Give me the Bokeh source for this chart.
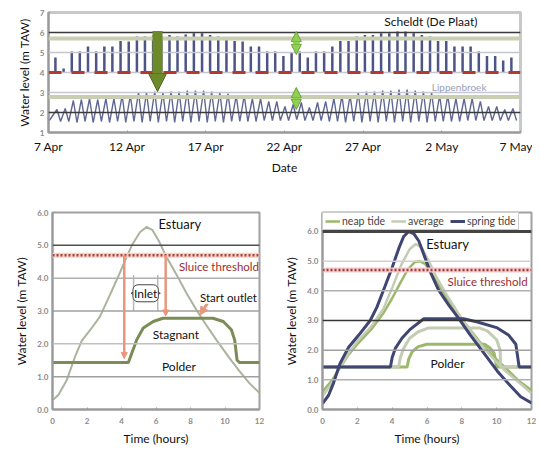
from bokeh.plotting import figure
from bokeh.layouts import column, row
from bokeh.models import (FixedTicker, Span, Label, Arrow, NormalHead, Legend, LegendItem)
from bokeh.embed import file_html
from bokeh.resources import INLINE

# ---------------- data: top panel ----------------
date_ticks = [0, 5, 10, 15, 20, 25, 30]
date_labels = ["7 Apr", "12 Apr", "17 Apr", "22 Apr", "27 Apr", "2 May", "7 May"]
level_ticks_top = [1, 2, 3, 4, 5, 6, 7]

scheldt_t = [0.44, 0.96, 1.48, 1.99, 2.51, 3.03, 3.55, 4.06, 4.58, 5.10,
             5.62, 6.13, 6.65, 7.17, 7.69, 8.20, 8.72, 9.24, 9.76, 10.27,
             10.79, 11.31, 11.83, 12.34, 12.86, 13.38, 13.90, 14.41, 14.93, 15.45,
             15.97, 16.48, 17.00, 17.52, 18.04, 18.55, 19.07, 19.59, 20.11, 20.62,
             21.14, 21.66, 22.18, 22.69, 23.21, 23.73, 24.25, 24.76, 25.28, 25.80,
             26.32, 26.83, 27.35, 27.87, 28.39, 28.90, 29.42]
scheldt_high = [4.75, 4.20, 5.05, 5.05, 5.30, 5.05, 5.30, 5.30, 5.57, 5.55,
                5.80, 5.80, 5.85, 5.80, 5.88, 5.80, 5.90, 5.96, 5.96, 5.88,
                5.80, 5.72, 5.57, 5.55, 5.30, 5.30, 5.05, 5.05, 4.83, 5.00,
                5.05, 4.75, 5.05, 5.05, 5.30, 5.57, 5.57, 5.80, 5.88, 5.88,
                5.96, 5.96, 6.05, 6.05, 5.96, 5.88, 5.80, 5.57, 5.57, 5.30,
                5.30, 5.30, 5.05, 4.83, 4.83, 4.60, 4.75]
scheldt_base = 4.0
lipp_high = [2.15, 2.20, 2.60, 2.65, 2.70, 2.65, 2.70, 2.70, 2.85, 2.85,
             3.00, 3.00, 3.05, 3.00, 3.05, 3.05, 3.10, 3.10, 3.10, 3.05,
             3.00, 2.95, 2.85, 2.85, 2.70, 2.70, 2.55, 2.55, 2.30, 2.40,
             2.50, 2.25, 2.50, 2.55, 2.70, 2.85, 2.85, 3.00, 3.05, 3.05,
             3.10, 3.10, 3.15, 3.15, 3.10, 3.05, 3.00, 2.85, 2.85, 2.70,
             2.70, 2.70, 2.55, 2.30, 2.30, 2.15, 2.20]
lipp_low = [1.60, 1.55, 1.55, 1.50, 1.55, 1.50, 1.55, 1.50, 1.55, 1.50,
            1.55, 1.50, 1.55, 1.50, 1.55, 1.50, 1.55, 1.50, 1.55, 1.50,
            1.55, 1.50, 1.55, 1.55, 1.55, 1.55, 1.60, 1.60, 1.60, 1.60,
            1.65, 1.60, 1.60, 1.60, 1.55, 1.55, 1.50, 1.55, 1.50, 1.55,
            1.50, 1.55, 1.50, 1.55, 1.50, 1.55, 1.50, 1.55, 1.55, 1.55,
            1.55, 1.60, 1.60, 1.60, 1.60, 1.60, 1.60, 1.60]
band_levels_top = [5.7, 2.78]

# ---------------- data: bottom panels ----------------
hour_ticks = [0, 2, 4, 6, 8, 10, 12]
level_ticks = [0, 1, 2, 3, 4, 5, 6]
sluice_threshold = 4.7

est_t = [0.05, 0.35, 0.83, 1.3, 1.7, 2.2, 2.75, 3.33, 3.81, 4.3, 4.6, 5.07, 5.45,
         5.8, 6.2, 6.6, 7.2, 7.77, 8.35, 8.9, 9.5, 10.25, 10.85, 11.4, 12.0]
est_v = [0.3, 0.45, 0.9, 1.6, 2.1, 2.43, 2.83, 3.49, 4.05, 4.65, 5.0, 5.4, 5.56,
         5.46, 5.1, 4.65, 4.1, 3.54, 3.03, 2.58, 2.12, 1.57, 1.16, 0.81, 0.5]
pol_t = [0, 4.4, 4.6, 4.88, 5.26, 5.84, 6.4, 9.3, 9.9, 10.37, 10.56, 10.7, 10.85, 12]
pol_v = [1.43, 1.43, 1.72, 2.12, 2.48, 2.68, 2.78, 2.78, 2.68, 2.43, 2.12, 1.5, 1.43, 1.43]

spring_est_t = [0.0, 0.35, 0.63, 1.0, 1.5, 2.07, 2.74, 3.13, 3.6, 3.99, 4.38, 4.66, 4.95,
                5.24, 5.53, 5.82, 6.2, 6.68, 7.26, 7.83, 8.5, 9.27, 10.04, 10.8, 11.38, 12.0]
spring_est_v = [0.2, 0.48, 0.89, 1.54, 2.1, 2.5, 3.0, 3.46, 4.17, 4.77, 5.43, 5.83, 6.0,
                5.93, 5.68, 5.22, 4.62, 4.01, 3.51, 3.06, 2.5, 1.9, 1.29, 0.79, 0.43, 0.22]
avg_est_t = [0.0, 0.5, 1.0, 1.5, 2.0, 2.8, 3.5, 4.0, 4.5, 5.0, 5.35, 5.7, 6.1, 6.6,
             7.2, 8.0, 8.8, 9.6, 10.4, 11.2, 12.0]
avg_est_v = [0.45, 0.85, 1.4, 1.9, 2.3, 2.8, 3.4, 4.1, 4.85, 5.4, 5.58, 5.45, 5.0, 4.4,
             3.8, 3.05, 2.4, 1.85, 1.35, 0.95, 0.55]
neap_est_t = [0.0, 0.5, 1.0, 1.5, 2.0, 2.8, 3.5, 4.0, 4.5, 4.9, 5.3, 5.6, 5.9, 6.3,
              6.8, 7.5, 8.2, 9.0, 9.8, 10.6, 11.3, 12.0]
neap_est_v = [0.6, 0.95, 1.4, 1.85, 2.2, 2.7, 3.25, 3.75, 4.3, 4.72, 4.97, 5.0, 4.9, 4.55,
              4.05, 3.45, 2.9, 2.3, 1.8, 1.35, 0.95, 0.65]
spring_pol_t = [0, 3.9, 4.0, 4.18, 4.57, 5.05, 5.82, 8.1, 8.9, 10.04, 10.7, 11.1, 11.2, 11.29, 12]
spring_pol_v = [1.43, 1.43, 1.75, 2.06, 2.41, 2.71, 3.06, 3.06, 2.95, 2.75, 2.5, 2.2, 1.8, 1.43, 1.43]
avg_pol_t = [0, 4.37, 4.47, 4.65, 5.0, 5.5, 6.1, 9.0, 9.46, 10.0, 10.2, 10.23, 12]
avg_pol_v = [1.43, 1.43, 1.75, 2.05, 2.4, 2.62, 2.75, 2.75, 2.65, 2.35, 2.0, 1.43, 1.43]
neap_pol_t = [0, 4.86, 4.95, 5.15, 5.5, 6.0, 9.3, 9.6, 9.85, 9.95, 10.0, 12]
neap_pol_v = [1.43, 1.43, 1.7, 1.95, 2.12, 2.2, 2.2, 2.08, 1.9, 1.6, 1.43, 1.43]

# ---------------- styles ----------------
FONT = "Lato"
TICK_GREY = "#8a8a8a"
EST_COL = "#aab39c"
POL_COL = "#7b8c57"
NEAP_COL = "#9cb86a"
AVG_COL = "#c4ccb4"
SPRING_COL = "#3f4672"
RED = "#9b2d2d"
ORANGE = "#e8977c"


def style_axes(p):
    for ax in (p.xaxis[0], p.yaxis[0]):
        ax.axis_line_color = "#9a9a9a"
        ax.axis_line_width = 2
        ax.major_tick_line_color = "#9a9a9a"
        ax.major_tick_in = 2
        ax.major_tick_out = 0
        ax.minor_tick_line_color = None
        ax.major_label_text_font = FONT
        ax.axis_label_text_font = FONT
        ax.axis_label_text_font_style = "normal"
        ax.axis_label_text_font_size = "12px"
        ax.axis_label_text_color = "#111111"
        ax.major_label_standoff = 4
        ax.axis_label_standoff = 5
    p.xgrid.grid_line_color = None
    p.ygrid.grid_line_color = None
    p.outline_line_color = "#a0a0a0"
    p.outline_line_width = 2
    p.background_fill_color = "white"
    p.border_fill_color = "white"


def hline(p, y, color, width, dash="solid"):
    p.add_layout(Span(location=y, dimension="width", line_color=color,
                      line_width=width, line_dash=dash))


def text(p, x, y, s, color="#111111", size="12px", bg=None, border=None):
    p.add_layout(Label(x=x, y=y, text=s, text_align="center", text_baseline="middle",
                       text_font=FONT, text_font_size=size, text_color=color,
                       background_fill_color=bg, background_fill_alpha=1.0 if bg else 0.0,
                       border_line_color=border, padding=1 if border else 0,
                       border_radius=5 if border else 0))


# ================= top panel =================
p1 = figure(width=532, height=180, x_range=(0, 30), y_range=(1, 7),
            output_backend="svg", toolbar_location=None,
            min_border_left=48, min_border_right=12, min_border_top=12, min_border_bottom=48)
style_axes(p1)
p1.xaxis.ticker = FixedTicker(ticks=date_ticks)
p1.xaxis.major_label_overrides = {t: l for t, l in zip(date_ticks, date_labels)}
p1.xaxis.major_label_text_font_size = "12px"
p1.xaxis.major_label_text_color = "#111111"
p1.xaxis.major_label_standoff = 6
p1.xaxis.axis_label_standoff = 3
p1.yaxis.ticker = FixedTicker(ticks=level_ticks_top)
p1.yaxis.major_label_text_font_size = "8px"
p1.yaxis.major_label_text_font_style = "bold"
p1.yaxis.major_label_text_color = TICK_GREY
p1.xaxis.axis_label = "Date"
p1.yaxis.axis_label = "Water level (m TAW)"
p1.outline_line_color = "#c8c8c8"
p1.outline_line_width = 3

for lv in (3, 4, 5):
    hline(p1, lv, "#c4c6d0", 1.5)
for lv in band_levels_top:
    hline(p1, lv, "#c9cdb2", 4)
hline(p1, 6, "#3a3a3a", 1.5)
hline(p1, 2, "#3a3a3a", 1.5)
hline(p1, scheldt_base, "#b5392c", 3, "13 10")

# Lippenbroek series (alternating low/high water)
lx, ly = [0.05], [lipp_low[0]]
for i, (t, h) in enumerate(zip(scheldt_t, lipp_high)):
    lx += [t + 0.1, t + 0.33]
    ly += [h, lipp_low[min(i + 1, len(lipp_low) - 1)]]
p1.line(lx, ly, line_color="#5f6792", line_width=1.4)

# Scheldt high-water spikes above the base level
p1.segment(x0=scheldt_t, y0=[scheldt_base] * len(scheldt_t), x1=scheldt_t, y1=scheldt_high,
           line_color="#4d5486", line_width=2.5)

p1.add_layout(Arrow(end=NormalHead(size=18, fill_color="#6d8a2b", line_color="#4f6520"),
                    x_start=6.93, y_start=6.08, x_end=6.93, y_end=3.05,
                    line_color="#6d8a2b", line_width=10))
for y0, y1 in ((4.9, 6.05), (2.15, 3.25)):
    p1.add_layout(Arrow(start=NormalHead(size=10, fill_color="#8fd052", line_color="#6aa33a"),
                        end=NormalHead(size=10, fill_color="#8fd052", line_color="#6aa33a"),
                        x_start=15.75, y_start=y0, x_end=15.75, y_end=y1,
                        line_color="#8fd052", line_width=7))
text(p1, 24.3, 6.55, "Scheldt (De Plaat)", size="12px", bg="white")
text(p1, 26.1, 3.3, "Lippenbroek", color="#9aa0b8", size="10px")

# ================= bottom-left panel =================
p2 = figure(width=270, height=270, x_range=(0, 12), y_range=(0, 6),
            output_backend="svg", toolbar_location=None,
            min_border_left=52, min_border_right=11, min_border_top=32, min_border_bottom=41)
style_axes(p2)


def bottom_axes(p):
    p.xaxis.ticker = FixedTicker(ticks=hour_ticks)
    p.yaxis.ticker = FixedTicker(ticks=level_ticks)
    p.yaxis.major_label_overrides = {v: f"{v:.1f}" for v in level_ticks}
    for ax in (p.xaxis[0], p.yaxis[0]):
        ax.major_label_text_font_size = "8px"
        ax.major_label_text_font_style = "bold"
        ax.major_label_text_color = TICK_GREY
    p.xaxis.major_label_standoff = 8
    p.xaxis.axis_label_standoff = 4
    p.xaxis.axis_label = "Time (hours)"
    p.yaxis.axis_label = "Water level (m TAW)"


bottom_axes(p2)
hline(p2, 1, "#a0a0a0", 1.5)
hline(p2, 2, "#c0c0c0", 1.5)
hline(p2, 3, "#a0a0a0", 1.5)
hline(p2, 4, "#b0b0b0", 1.5)
hline(p2, 5, "#505050", 1.5)
hline(p2, sluice_threshold, "#f3d2c6", 5)
hline(p2, sluice_threshold, "#b0403a", 2.5, "2 2")

p2.line(est_t, est_v, line_color=EST_COL, line_width=2)
p2.line(pol_t, pol_v, line_color=POL_COL, line_width=3)

for x0, y1 in ((4.16, 1.55), (6.56, 2.85)):
    p2.add_layout(Arrow(end=NormalHead(size=6, fill_color=ORANGE, line_color=ORANGE),
                        x_start=x0, y_start=sluice_threshold, x_end=x0, y_end=y1,
                        line_color=ORANGE, line_width=2.5))
for xb in (4.7, 6.1):
    p2.segment(x0=[xb], y0=[3.0], x1=[xb], y1=[4.1], line_color="#b8b8b8", line_width=1.5)
p2.add_layout(Arrow(start=NormalHead(size=9, fill_color="white", line_color="#444444"),
                    end=NormalHead(size=9, fill_color="white", line_color="#444444"),
                    x_start=4.55, y_start=3.54, x_end=6.25, y_end=3.54,
                    line_color="#444444", line_width=1))
p2.add_layout(Arrow(end=NormalHead(size=8, fill_color=ORANGE, line_color=ORANGE),
                    x_start=9.0, y_start=3.25, x_end=8.55, y_end=2.88,
                    line_color=ORANGE, line_width=3))
text(p2, 7.38, 5.64, "Estuary", size="13px")
text(p2, 9.65, 4.36, "Sluice threshold", color=RED, size="11.5px")
text(p2, 5.4, 3.54, "Inlet", bg="white", border="#444444")
text(p2, 10.2, 3.42, "Start outlet", bg="white", size="11.5px")
text(p2, 7.15, 2.28, "Stagnant")
text(p2, 7.33, 1.32, "Polder")

# ================= bottom-right panel =================
p3 = figure(width=270, height=270, x_range=(0, 12), y_range=(0, 6.64),
            output_backend="svg", toolbar_location=None,
            min_border_left=52, min_border_right=9, min_border_top=10, min_border_bottom=41)
style_axes(p3)
bottom_axes(p3)
hline(p3, 1, "#b0b0b0", 1.5)
hline(p3, 2, "#a0a0a0", 1.5)
hline(p3, 3, "#353535", 1.5)
hline(p3, 4, "#b0b0b0", 1.5)
hline(p3, 5, "#d0d0d0", 1.5)
hline(p3, 6, "#444444", 3)
hline(p3, sluice_threshold, "#f0cccc", 5)
hline(p3, sluice_threshold, "#a83a3a", 2.5, "2 2")

r_neap = p3.line(neap_est_t, neap_est_v, line_color=NEAP_COL, line_width=2.5)
p3.line(neap_pol_t, neap_pol_v, line_color=NEAP_COL, line_width=3)
r_avg = p3.line(avg_est_t, avg_est_v, line_color=AVG_COL, line_width=2.5)
p3.line(avg_pol_t, avg_pol_v, line_color=AVG_COL, line_width=3)
r_spring = p3.line(spring_est_t, spring_est_v, line_color=SPRING_COL, line_width=3)
p3.line(spring_pol_t, spring_pol_v, line_color=SPRING_COL, line_width=3)

legend = Legend(items=[LegendItem(label="neap tide", renderers=[r_neap]),
                       LegendItem(label="average", renderers=[r_avg]),
                       LegendItem(label="spring tide", renderers=[r_spring])],
                location="top_left", orientation="horizontal", margin=0, padding=2,
                spacing=6, glyph_width=15, glyph_height=10, label_standoff=2,
                label_text_font=FONT, label_text_font_size="10.5px",
                label_height=12, border_line_color="#999999", border_line_width=1.5,
                background_fill_alpha=1.0)
p3.add_layout(legend)
text(p3, 7.18, 5.58, "Estuary", size="13px")
text(p3, 9.48, 4.33, "Sluice threshold", color=RED, size="11.5px")
text(p3, 7.18, 1.55, "Polder")

layout = column(p1, row(p2, p3))
open("out.html", "w").write(file_html(layout, INLINE))
